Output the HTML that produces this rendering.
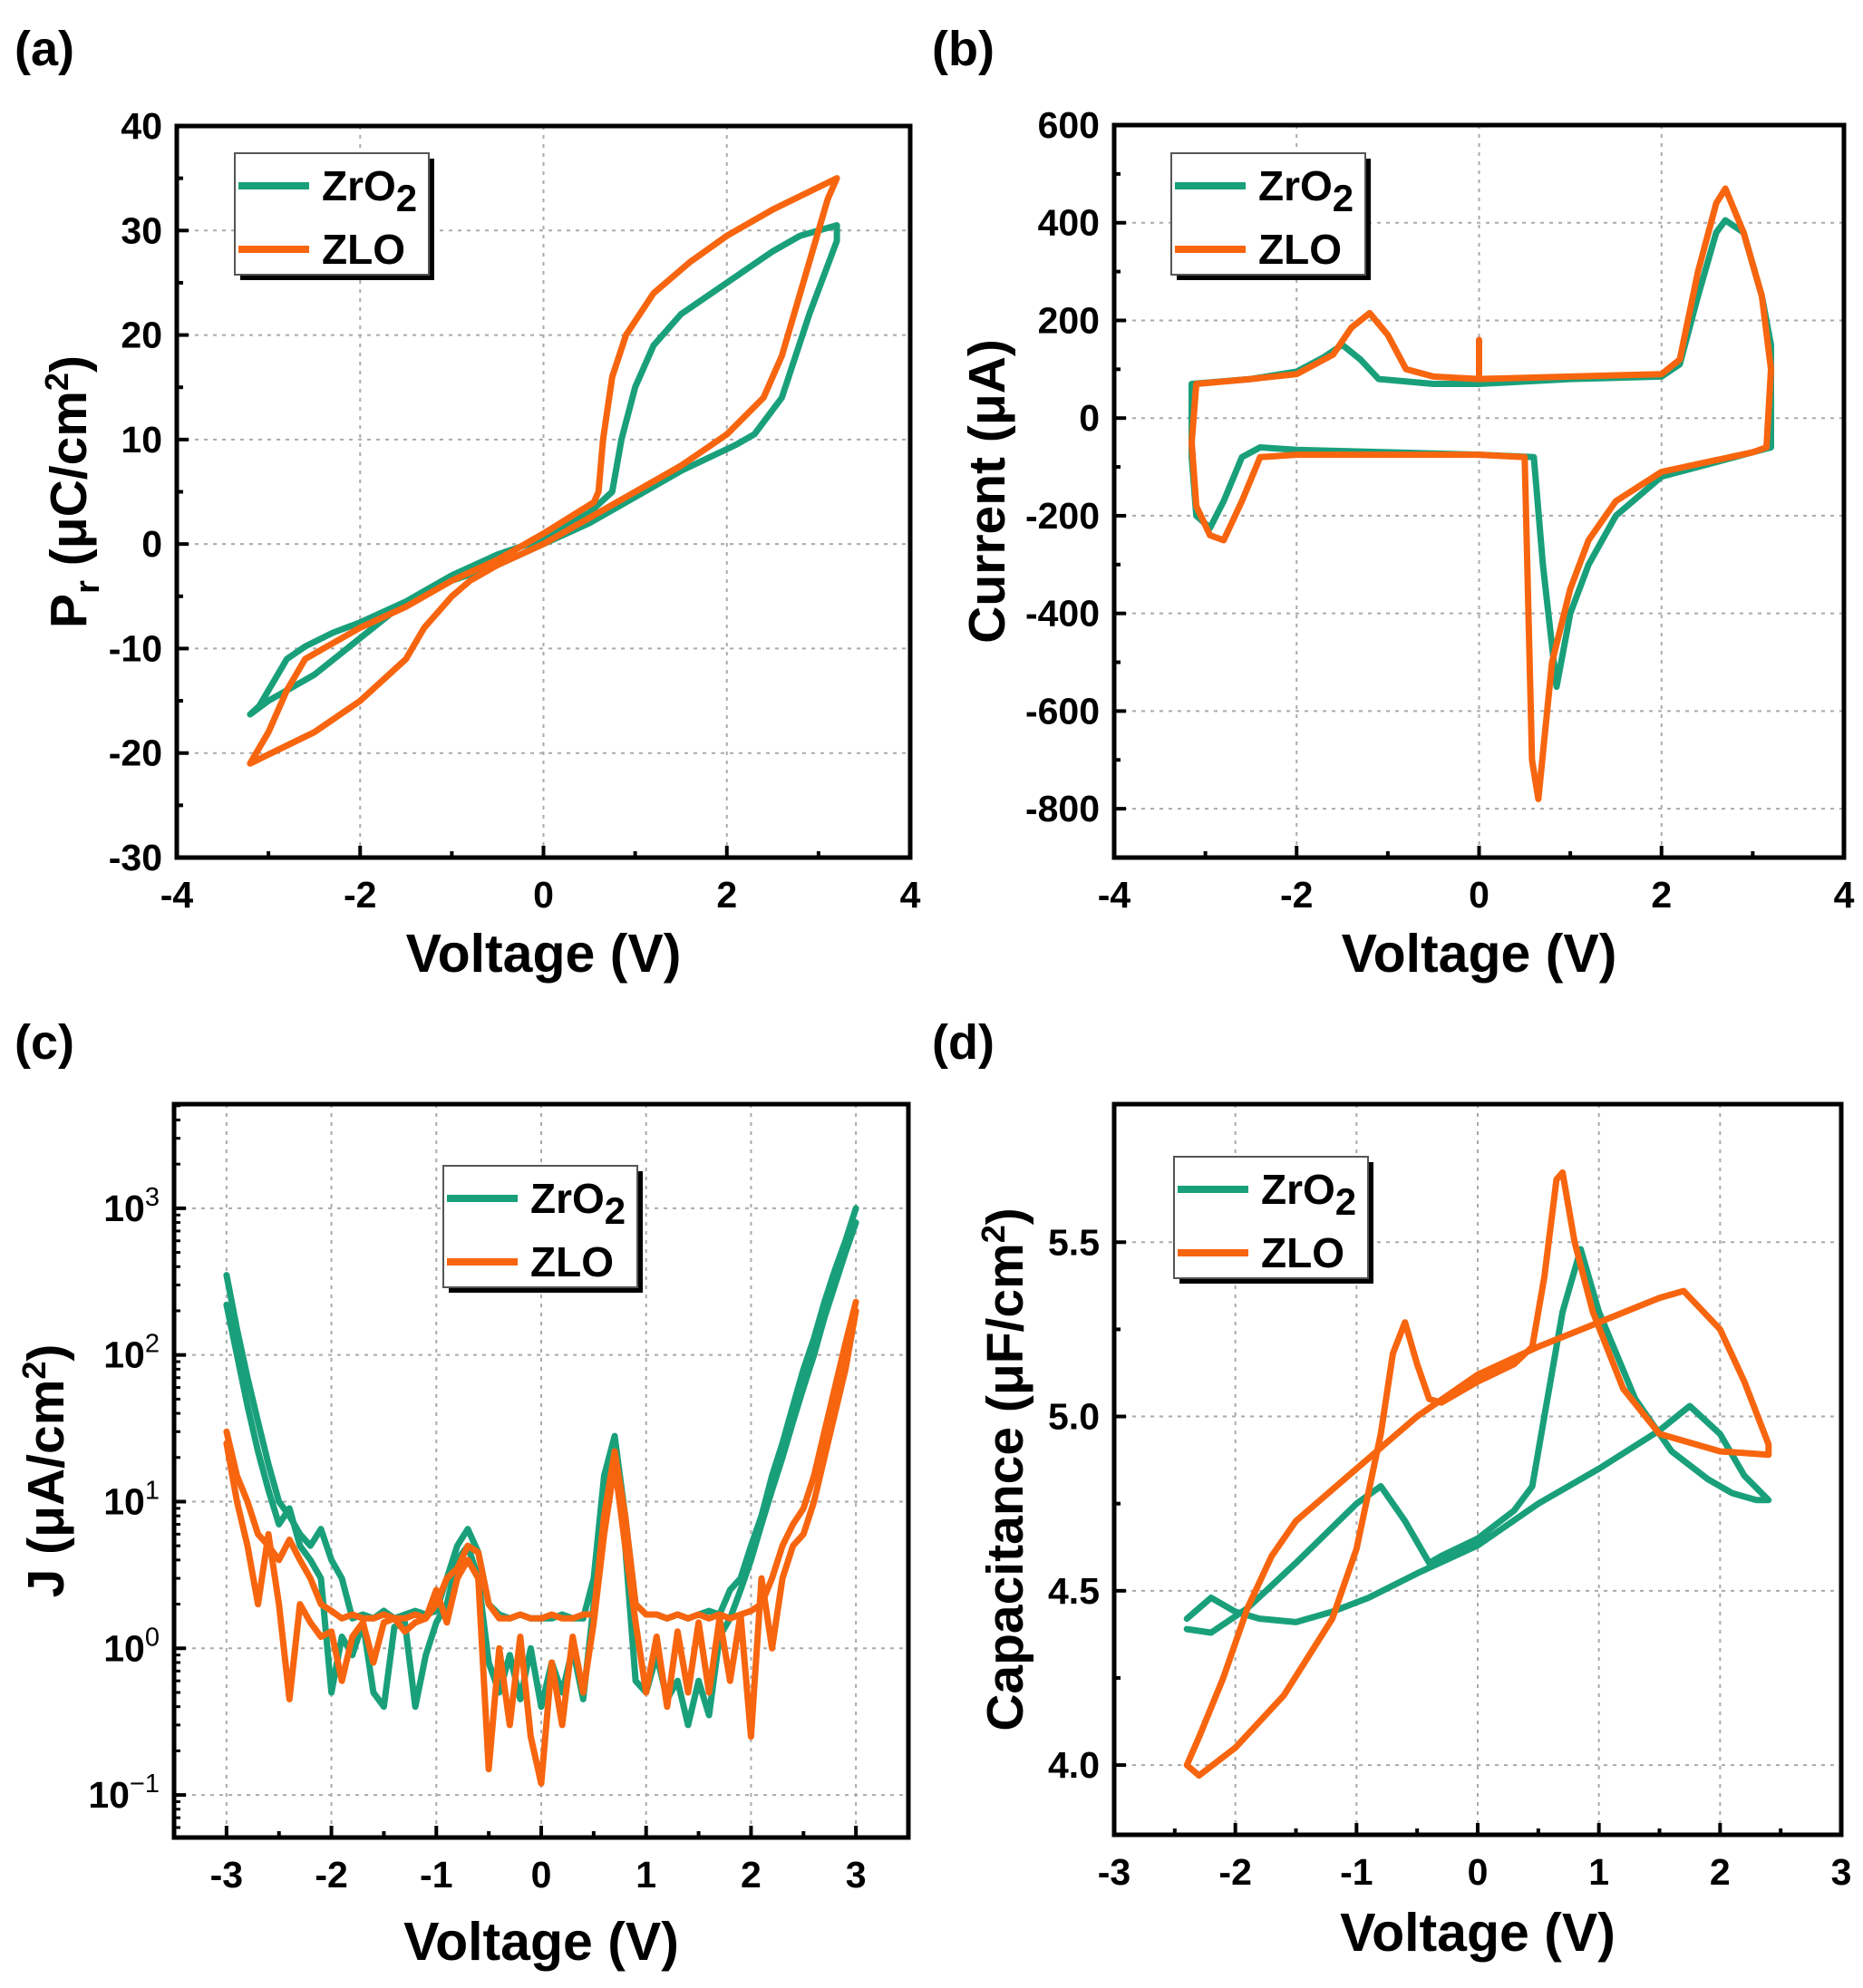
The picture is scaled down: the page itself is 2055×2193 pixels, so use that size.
<!DOCTYPE html>
<html><head><meta charset="utf-8"><style>
html,body{margin:0;padding:0;background:#fff;}
svg{display:block;font-family:"Liberation Sans",Arial,sans-serif;font-weight:bold;}
</style></head><body>
<svg id="fig" width="2055" height="2193" viewBox="0 0 2055 2193" xmlns="http://www.w3.org/2000/svg"></svg>
<script>
// ---- Panel (a) data: P-V loops ----
const aZrV = [0,0.5,0.75,0.85,1.0,1.2,1.5,2,2.5,2.8,3.2,3.2,2.9,2.6,2.3,2.1,1.5,1,0.5,0,-0.5,-1,-1.5,-2,-2.5,-3,-3.2,-3.1,-2.8,-2.6,-2.3,-2,-1.5,-1,-0.5,0];
const aZrP = [0.5,3,5,10,15,19,22,25,28,29.5,30.5,29,22,14,10.5,9.5,7,4.5,2,0,-2,-3.5,-5.5,-9,-12.5,-15,-16.3,-15.5,-11,-9.8,-8.5,-7.5,-5.5,-3,-1,0.5];
const aZlV = [0,0.55,0.6,0.65,0.75,0.9,1.2,1.6,2,2.5,3.2,3.1,2.9,2.6,2.4,2.0,1.5,1,0.5,0,-0.5,-0.8,-1,-1.3,-1.5,-2,-2.5,-3.2,-3.0,-2.8,-2.6,-2.4,-2,-1.5,-1,-0.5,0];
const aZlP = [1,4,5,10,16,20,24,27,29.5,32,35,33,27,18,14,10.5,7.5,5,2.5,0,-2,-3.5,-5,-8,-11,-15,-18,-21,-18,-14,-11,-10,-8,-6,-3.5,-1.5,1];
const aXTicks = [-4,-2,0,2,4];
const aYTicks = [-30,-20,-10,0,10,20,30,40];

// ---- Panel (b) data: I-V ----
const bZrV = [-3.15,-2.5,-2,-1.7,-1.5,-1.3,-1.1,-0.5,0,1,2,2.2,2.4,2.6,2.7,2.9,3.1,3.2,3.2,3.0,2.5,2,1.5,1.2,1.0,0.85,0.7,0.6,0,-1,-2,-2.4,-2.6,-2.8,-2.95,-3.1,-3.15,-3.15];
const bZrI = [70,80,95,125,150,120,80,70,70,80,85,110,250,380,405,380,250,150,-60,-70,-95,-120,-200,-300,-400,-550,-300,-80,-75,-70,-65,-60,-80,-170,-225,-200,-80,70];
const bZlV = [-3.1,-2.5,-2,-1.6,-1.4,-1.2,-1.0,-0.8,-0.5,0,0,0,1,2,2.2,2.4,2.6,2.7,2.9,3.1,3.2,3.15,3.0,2.5,2,1.5,1.2,1.0,0.8,0.65,0.58,0.5,0,-1,-2,-2.4,-2.6,-2.8,-2.95,-3.1,-3.15,-3.1];
const bZlI = [70,80,90,130,185,215,170,100,85,80,160,80,85,90,120,300,440,470,380,250,100,-60,-70,-90,-110,-170,-250,-350,-500,-780,-700,-80,-75,-75,-75,-80,-170,-250,-240,-180,-50,70];
const bXTicks = [-4,-2,0,2,4];
const bYTicks = [-800,-600,-400,-200,0,200,400,600];

// ---- Panel (c) data: J-V (log) ----
const cV = [-3,-2.9,-2.8,-2.7,-2.6,-2.5,-2.4,-2.3,-2.2,-2.1,-2,-1.9,-1.8,-1.7,-1.6,-1.5,-1.4,-1.3,-1.2,-1.1,-1,-0.9,-0.8,-0.7,-0.6,-0.5,-0.4,-0.3,-0.2,-0.1,0,0.1,0.2,0.3,0.4,0.5,0.6,0.7,0.8,0.9,1,1.1,1.2,1.3,1.4,1.5,1.6,1.7,1.8,1.9,2,2.1,2.2,2.3,2.4,2.5,2.6,2.7,2.8,2.9,3];
const cZrA = [350,150,70,35,18,10,8,6,5,6.5,4,3,1.6,1.7,1.6,1.8,1.6,1.7,1.8,1.7,1.8,3,5,6.5,4.5,2,1.7,1.6,1.7,1.6,1.6,1.6,1.7,1.6,1.6,3,15,28,8,2,1.7,1.7,1.6,1.7,1.6,1.7,1.8,1.7,2.5,3,5,8,15,25,45,80,130,230,380,600,1000];
const cZrB = [220,100,45,22,12,7,9,5,4,3,0.5,1.2,0.9,1.5,0.5,0.4,1.4,1.5,0.4,0.9,1.5,2,4,5,3,0.8,0.5,0.9,0.45,1,0.4,0.8,0.5,1,0.45,2,10,22,5,0.6,0.5,0.9,0.45,0.6,0.3,0.6,0.35,1.2,1.6,2.5,4,7,12,20,35,60,100,180,300,500,800];
const cZlA = [30,15,10,6,5,4,5.5,4,3,2,1.8,1.6,1.7,1.6,1.6,1.7,1.6,1.6,1.7,1.6,2,3,3.5,5,4.5,2,1.6,1.6,1.7,1.6,1.6,1.7,1.6,1.6,1.7,1.7,8,22,8,2,1.7,1.7,1.6,1.7,1.6,1.7,1.6,1.7,1.6,1.7,1.8,2,3,5,7,9,15,30,60,120,230];
const cZlB = [25,10,5,2,6,2,0.45,2,1.5,1.2,1.3,0.6,1.2,1.5,0.8,1.5,1.6,1.3,1.5,1.6,2.5,1.5,3,4,3,0.15,1,0.3,1.2,0.25,0.12,0.8,0.3,1.2,0.5,1.5,6,18,5,1.5,0.5,1.2,0.4,1.3,0.5,1.5,0.5,1.6,0.6,1.7,0.25,3,1,3,5,6,10,20,40,80,200];
const cXTicks = [-3,-2,-1,0,1,2,3];
const cYExp = [-1,0,1,2,3];

// ---- Panel (d) data: C-V ----
const dZrV = [-2.4,-2.2,-2.0,-1.8,-1.5,-1.2,-0.9,-0.5,0,0.5,1,1.5,1.75,2.0,2.2,2.4,2.3,2.1,1.9,1.6,1.3,1.0,0.85,0.7,0.55,0.45,0.3,0,-0.3,-0.4,-0.6,-0.8,-1.0,-1.5,-1.9,-2.2,-2.4];
const dZrC = [4.42,4.48,4.44,4.42,4.41,4.44,4.48,4.55,4.63,4.75,4.85,4.96,5.03,4.95,4.83,4.76,4.76,4.78,4.82,4.9,5.05,5.3,5.48,5.3,5.0,4.8,4.73,4.65,4.6,4.58,4.7,4.8,4.75,4.58,4.45,4.38,4.39];
const dZlV = [-2.4,-2.3,-2.0,-1.6,-1.2,-1.0,-0.8,-0.7,-0.6,-0.5,-0.4,-0.3,0,0.3,0.45,0.55,0.65,0.7,0.8,0.95,1.2,1.5,2.0,2.4,2.4,2.2,2.0,1.7,1.5,1.0,0.5,0,-0.5,-1.0,-1.5,-1.7,-1.9,-2.1,-2.3,-2.4];
const dZlC = [4.0,3.97,4.05,4.2,4.42,4.62,4.95,5.18,5.27,5.15,5.05,5.04,5.1,5.15,5.2,5.4,5.68,5.7,5.5,5.3,5.08,4.95,4.9,4.89,4.92,5.1,5.25,5.36,5.34,5.27,5.2,5.12,5.0,4.85,4.7,4.6,4.45,4.25,4.08,4.0];
const dXTicks = [-3,-2,-1,0,1,2,3];
const dYTicks = [4.0,4.5,5.0,5.5];

const GREEN = '#19a07b', ORANGE = '#f8650f';
const NS = 'http://www.w3.org/2000/svg';
const svg = document.getElementById('fig');
function mk(tag, attrs, parent) {
  const e = document.createElementNS(NS, tag);
  for (const k in attrs) e.setAttribute(k, attrs[k]);
  (parent || svg).appendChild(e);
  return e;
}
function linScale(d0, d1, r0, r1) { return v => r0 + (v - d0) / (d1 - d0) * (r1 - r0); }

function panel(p) {
  const g = mk('g', {});
  
  
  const X = linScale(p.xmin, p.xmax, p.L, p.R);
  const YL = linScale(p.ymin, p.ymax, p.B, p.T);
  const Y = p.log ? (v => YL(Math.log10(v))) : YL;
  p.xTicks.forEach(t => {
    if (t > p.xmin && t < p.xmax) {
      const l = mk('line', {x1: X(t), x2: X(t), y1: p.T, y2: p.B, stroke: '#aaa', 'stroke-width': 2, 'stroke-dasharray': '4,6'}, g);
      
      
    }
  });
  p.yTickVals.forEach(t => {
    const yy = YL(t);
    if (yy > p.T + 2 && yy < p.B - 2) {
      const l = mk('line', {x1: p.L, x2: p.R, y1: yy, y2: yy, stroke: '#aaa', 'stroke-width': 2, 'stroke-dasharray': '4,6'}, g);
      
      
    }
  });
  p.series.forEach(s => {
    const pts = s.x.map((v, i) => X(v).toFixed(1) + ',' + Y(s.y[i]).toFixed(1)).join(' ');
    const pl = mk('polyline', {points: pts, fill: 'none', stroke: s.color, 'stroke-width': 7, 'stroke-linejoin': 'round', 'stroke-linecap': 'round'}, g);
    
    
  });
  const fr = mk('rect', {x: p.L, y: p.T, width: p.R - p.L, height: p.B - p.T, fill: 'none', stroke: '#000', 'stroke-width': 5}, g);
  
  
  // minor x ticks
  for (let i = 0; i < p.xTicks.length - 1; i++) {
    const m = (p.xTicks[i] + p.xTicks[i + 1]) / 2;
    if (m > p.xmin && m < p.xmax) mk('line', {x1: X(m), x2: X(m), y1: p.B, y2: p.B - 7, stroke: '#000', 'stroke-width': 4}, g);
  }
  if (!p.log) for (let i = 0; i < p.yTickVals.length - 1; i++) {
    const m = (p.yTickVals[i] + p.yTickVals[i + 1]) / 2;
    mk('line', {x1: p.L, x2: p.L + 7, y1: YL(m), y2: YL(m), stroke: '#000', 'stroke-width': 4}, g);
  } else for (let e = Math.floor(p.ymin); e < p.ymax; e++) for (let k = 2; k < 10; k++) {
    const yy = YL(e + Math.log10(k));
    if (yy > p.T && yy < p.B) mk('line', {x1: p.L, x2: p.L + 7, y1: yy, y2: yy, stroke: '#000', 'stroke-width': 3}, g);
  }
  p.xTicks.forEach(t => {
    mk('line', {x1: X(t), x2: X(t), y1: p.B, y2: p.B - 13, stroke: '#000', 'stroke-width': 4}, g);
    const tx = mk('text', {x: X(t), y: p.B + 55, 'text-anchor': 'middle', 'font-size': 41}, g);
    tx.textContent = String(t);
    
    
  });
  p.yTickVals.forEach(t => {
    const yy = YL(t);
    mk('line', {x1: p.L, x2: p.L + 13, y1: yy, y2: yy, stroke: '#000', 'stroke-width': 4}, g);
    const tx = mk('text', {x: p.L - 16, y: yy + 14, 'text-anchor': 'end', 'font-size': 41}, g);
    if (p.log) {
      tx.textContent = '10';
      const sp = mk('tspan', {dy: -17, 'font-size': 29, 'font-weight': 'normal'}, tx);
      sp.textContent = (t < 0 ? '\u2212' : '') + Math.abs(t);
    } else {
      tx.textContent = p.yFmt ? p.yFmt(t) : String(t);
    }
    
    
  });
  const xt = mk('text', {x: (p.L + p.R) / 2, y: p.xTitleY, 'text-anchor': 'middle', 'font-size': 59}, g);
  xt.textContent = 'Voltage (V)';
  
  
  const yt = mk('text', {x: 0, y: 0, 'text-anchor': 'middle', 'font-size': 57, transform: `translate(${p.yTitleX},${(p.T + p.B) / 2}) rotate(-90)`}, g);
  p.yTitle(yt);
  
  
  const pl = mk('text', {x: p.labX, y: p.labY, 'font-size': 54}, g);
  pl.textContent = p.label;
  
  
  const lg = mk('g', {}, g);
  
  
  const [lx, ly] = p.leg;
  mk('rect', {x: lx + 6, y: ly + 6, width: 214, height: 134, fill: '#000'}, lg);
  mk('rect', {x: lx, y: ly, width: 214, height: 134, fill: '#fff', stroke: '#555', 'stroke-width': 2}, lg);
  [['ZrO', GREEN, 36], ['ZLO', ORANGE, 106]].forEach(([n, c, dy]) => {
    const e = mk('g', {}, lg);
    
    
    mk('line', {x1: lx + 4, x2: lx + 82, y1: ly + dy, y2: ly + dy, stroke: c, 'stroke-width': 8}, e);
    const t = mk('text', {x: lx + 96, y: ly + dy + 16, 'font-size': 46}, e);
    t.textContent = n;
    if (n === 'ZrO') { const s = mk('tspan', {dy: 12, 'font-size': 42}, t); s.textContent = '2'; }
  });
}

function supTitle(el, pre, sup, post) {
  el.textContent = pre;
  const s = mk('tspan', {dy: -20, 'font-size': 36}, el); s.textContent = sup;
  const r = mk('tspan', {dy: 20}, el); r.textContent = post;
}

panel({name: 'panel-a', label: '(a)', labX: 16, labY: 72, L: 195, R: 1004, T: 139, B: 946,
  xmin: -4, xmax: 4, ymin: -30, ymax: 40, xTicks: aXTicks, yTickVals: aYTicks,
  xTitleY: 1072, yTitleX: 95, leg: [259, 169],
  yTitle: el => { el.textContent = 'P'; const s = mk('tspan', {dy: 14, 'font-size': 38}, el); s.textContent = 'r'; const r = mk('tspan', {dy: -14}, el); r.textContent = ' (\u03bcC/cm'; const q = mk('tspan', {dy: -20, 'font-size': 36}, el); q.textContent = '2'; const z = mk('tspan', {dy: 20}, el); z.textContent = ')'; },
  series: [{name: 'zro2-loop', x: aZrV, y: aZrP, color: GREEN}, {name: 'zlo-loop', x: aZlV, y: aZlP, color: ORANGE}]});

panel({name: 'panel-b', label: '(b)', labX: 1028, labY: 72, L: 1229, R: 2034, T: 138, B: 946,
  xmin: -4, xmax: 4, ymin: -900, ymax: 600, xTicks: bXTicks, yTickVals: bYTicks,
  xTitleY: 1072, yTitleX: 1108, leg: [1292, 169],
  yTitle: el => { el.textContent = 'Current (\u03bcA)'; },
  series: [{name: 'zro2-current', x: bZrV, y: bZrI, color: GREEN}, {name: 'zlo-current', x: bZlV, y: bZlI, color: ORANGE}]});

panel({name: 'panel-c', label: '(c)', labX: 16, labY: 1168, L: 192, R: 1002, T: 1218, B: 2027,
  xmin: -3.5, xmax: 3.5, ymin: -1.29, ymax: 3.71, log: true, xTicks: cXTicks, yTickVals: cYExp,
  xTitleY: 2162, yTitleX: 70, leg: [489, 1286],
  yTitle: el => supTitle(el, 'J (\u03bcA/cm', '2', ')'),
  series: [{name: 'zro2-j-forward', x: cV, y: cZrA, color: GREEN}, {name: 'zro2-j-reverse', x: cV, y: cZrB, color: GREEN},
           {name: 'zlo-j-forward', x: cV, y: cZlA, color: ORANGE}, {name: 'zlo-j-reverse', x: cV, y: cZlB, color: ORANGE}]});

panel({name: 'panel-d', label: '(d)', labX: 1028, labY: 1168, L: 1229, R: 2031, T: 1218, B: 2024,
  xmin: -3, xmax: 3, ymin: 3.8, ymax: 5.896, xTicks: dXTicks, yTickVals: dYTicks, yFmt: t => t.toFixed(1),
  xTitleY: 2152, yTitleX: 1128, leg: [1295, 1276],
  yTitle: el => supTitle(el, 'Capacitance (\u03bcF/cm', '2', ')'),
  series: [{name: 'zro2-capacitance', x: dZrV, y: dZrC, color: GREEN}, {name: 'zlo-capacitance', x: dZlV, y: dZlC, color: ORANGE}]});
</script>
</body></html>
